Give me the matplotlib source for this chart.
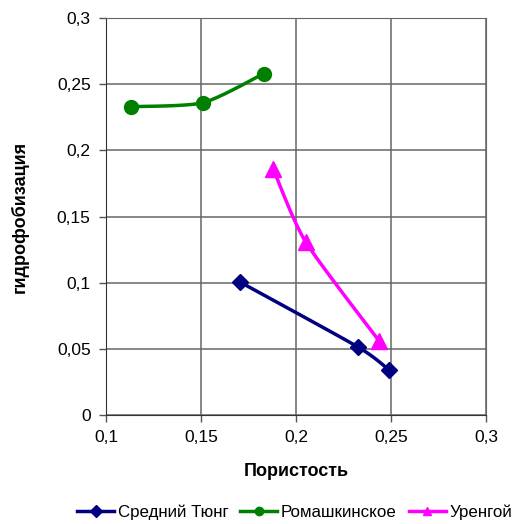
import matplotlib.pyplot as plt
import numpy as np
from matplotlib.ticker import FuncFormatter

plt.rcParams['font.family'] = ['Liberation Sans', 'DejaVu Sans']

# data
tyung_x = [0.1705, 0.2326, 0.249]
tyung_y = [0.1005, 0.0514, 0.034]
romash_x = [0.113, 0.151, 0.183]
romash_y = [0.233, 0.236, 0.258]
urengoy_x = [0.188, 0.205, 0.2437]
urengoy_y = [0.186, 0.131, 0.056]


def smooth(xs, ys, n=30, k=0.7):
    # bezier curve through the points (Excel-like smoothed line), done in screen-ish units
    sx, sy = 1900.0, 1323.0
    p = np.column_stack([np.array(xs) * sx, np.array(ys) * sy])
    q = np.vstack([p[0], p, p[-1]])
    t = np.linspace(0, 1, n)[:, None]
    out = []
    for i in range(len(p) - 1):
        a, b = p[i], p[i + 1]
        c1 = a + k * (q[i + 2] - q[i]) / 6
        c2 = b - k * (q[i + 3] - q[i + 1]) / 6
        out.append((1 - t)**3 * a + 3 * (1 - t)**2 * t * c1 + 3 * (1 - t) * t**2 * c2 + t**3 * b)
    c = np.vstack(out)
    return c[:, 0] / sx, c[:, 1] / sy


fig = plt.figure(figsize=(5.23, 5.24), dpi=100)
ax = fig.add_axes([0.2027, 0.208, 0.7266, 0.7576])

series = [
    (tyung_x, tyung_y, '#000080', 'D', 8, 'Средний Тюнг'),
    (romash_x, romash_y, '#008000', 'o', 10, 'Ромашкинское'),
    (urengoy_x, urengoy_y, '#FF00FF', '^', 11, 'Уренгой'),
]
for xs, ys, col, mk, ms, name in series:
    sx, sy = smooth(xs, ys)
    ax.plot(sx, sy, color=col, lw=2.5, zorder=3)
    ax.plot(xs, ys, ls='none', marker=mk, ms=ms, color=col, zorder=4)
    ax.plot([], [], color=col, lw=2.5, marker=mk, ms=6, label=name)

ax.set_xlim(0.1, 0.3)
ax.set_ylim(0, 0.3)
ax.set_xticks(np.arange(0.1, 0.301, 0.05))
ax.set_yticks(np.arange(0, 0.301, 0.05))
fmt = FuncFormatter(lambda v, p: ('%g' % round(v, 3)).replace('.', ','))
ax.xaxis.set_major_formatter(fmt)
ax.yaxis.set_major_formatter(fmt)
ax.tick_params(labelsize=12.5, length=5, width=1, color='#555555', direction='out', pad=6)
ax.grid(True, color='#666666', lw=1.1)
for s in ax.spines.values():
    s.set_color('#666666')
ax.spines['left'].set_color('#333333')
ax.spines['bottom'].set_color('#333333')

ax.set_xlabel('Пористость', fontsize=13, fontweight='bold', labelpad=13)
ax.set_ylabel('гидрофобизация', fontsize=13, fontweight='bold', labelpad=20)

fig.legend(loc='center', bbox_to_anchor=(0.563, 0.022), ncol=3, frameon=False,
           fontsize=12.2, handlelength=2.2, handletextpad=0.2, columnspacing=0.7)

fig.savefig('out.png', dpi=100)
